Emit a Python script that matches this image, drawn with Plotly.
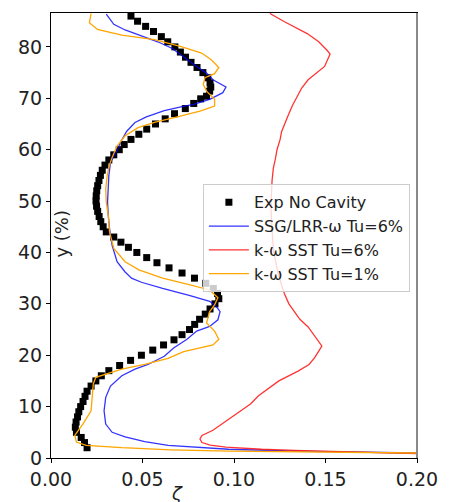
import plotly.graph_objects as go

# ---- data ----
exp_y = [86.0, 85.0, 84.0, 83.0, 82.0, 81.0, 80.0, 79.0, 78.0, 77.0, 76.0, 75.0, 74.0, 73.0, 72.2,
         71.4, 70.4, 69.9, 69.0, 68.0, 67.0, 66.0, 65.0, 64.0, 63.0, 62.0, 61.0, 60.0, 59.0, 58.0,
         57.0, 56.0, 55.0, 54.0, 53.0, 52.0, 51.0, 50.0, 49.0, 48.0, 47.0, 46.0, 45.0, 44.0, 43.0,
         42.0, 41.0, 40.0, 39.0, 38.0, 37.0, 36.0, 35.0, 34.0, 33.0, 32.0, 31.0, 30.0, 29.0, 28.0,
         27.0, 26.0, 25.0, 24.0, 23.0, 22.0, 21.0, 20.0, 19.0, 18.0, 17.0, 16.0, 15.0, 14.0, 13.0,
         12.0, 11.0, 10.0, 9.0, 8.0, 7.0, 6.0, 5.0, 4.0, 3.0, 2.0]
exp_x = [0.0437, 0.0473, 0.0517, 0.0560, 0.0603, 0.0638, 0.0677, 0.0707, 0.0735, 0.0765, 0.0798, 0.0830, 0.0857, 0.0869, 0.0873,
         0.0867, 0.0850, 0.0818, 0.0780, 0.0734, 0.0675, 0.0624, 0.0571, 0.0523, 0.0480, 0.0437, 0.0400, 0.0373, 0.0343, 0.0316,
         0.0295, 0.0280, 0.0270, 0.0262, 0.0255, 0.0250, 0.0247, 0.0246, 0.0249, 0.0255, 0.0263, 0.0272, 0.0285, 0.0302, 0.0343,
         0.0382, 0.0423, 0.0469, 0.0523, 0.0579, 0.0645, 0.0716, 0.0784, 0.0846, 0.0887, 0.0910, 0.0917, 0.0896, 0.0869, 0.0843,
         0.0812, 0.0785, 0.0757, 0.0716, 0.0672, 0.0615, 0.0556, 0.0494, 0.0435, 0.0375, 0.0316, 0.0275, 0.0245, 0.0219, 0.0197,
         0.0186, 0.0175, 0.0162, 0.0152, 0.0145, 0.0137, 0.0133, 0.0139, 0.0165, 0.0183, 0.0197]

ssg_y = [86.4, 84.4, 83.3, 82.1, 81.0, 79.7, 77.5, 76.2, 74.9, 73.6, 72.2, 71.1, 69.8, 68.8, 68.4,
         67.6, 66.4, 65.3, 63.6, 61.4, 59.8, 57.5, 54.9, 52.4, 49.8, 47.2, 44.6, 41.4, 38.2, 36.2,
         35.0, 34.2, 33.0, 31.6, 30.5, 29.5, 28.5, 26.9, 25.6, 24.7, 23.1, 21.4, 19.8, 18.2, 17.3,
         16.0, 14.0, 11.8, 9.2, 6.6, 5.0, 4.1, 3.2, 2.45, 1.7, 1.35, 1.16, 0.97]
ssg_x = [0.0302, 0.0343, 0.0405, 0.0494, 0.0583, 0.0663, 0.0743, 0.0796, 0.0850, 0.0885, 0.0956, 0.0939, 0.0867, 0.0779, 0.0716,
         0.0619, 0.0521, 0.0459, 0.0414, 0.0379, 0.0361, 0.0325, 0.0316, 0.0313, 0.0309, 0.0313, 0.0320, 0.0334, 0.0361, 0.0405,
         0.0440, 0.0494, 0.0610, 0.0760, 0.0867, 0.0903, 0.0924, 0.0912, 0.0867, 0.0796, 0.0743, 0.0670, 0.0619, 0.0530, 0.0459,
         0.0387, 0.0325, 0.0299, 0.0290, 0.0299, 0.0334, 0.0405, 0.0512, 0.0640, 0.0970, 0.1330, 0.1680, 0.2000]

sst6_y = [86.5, 84.9, 82.6, 81.0, 79.4, 78.6, 76.2, 74.6, 73.6, 72.0, 70.5, 68.5, 66.5, 65.0, 63.5,
          62.0, 60.0, 58.0, 56.4, 54.0, 52.4, 50.0, 48.5, 46.0, 44.0, 42.0, 40.0, 38.0, 36.0, 34.0,
          32.0, 30.0, 28.5, 27.0, 25.5, 24.0, 23.0, 21.8, 20.8, 19.5, 18.2, 16.9, 15.0, 13.5, 12.1,
          10.5, 7.9, 6.5, 5.4, 4.4, 3.7, 3.0, 2.5, 2.1, 1.7, 1.5, 1.2, 1.0, 0.85]
sst6_x = [0.1196, 0.1276, 0.1400, 0.1463, 0.1507, 0.1525, 0.1495, 0.1436, 0.1405, 0.1370, 0.1347, 0.1318, 0.1294, 0.1275, 0.1260,
          0.1252, 0.1235, 0.1225, 0.1215, 0.1208, 0.1205, 0.1203, 0.1202, 0.1205, 0.1207, 0.1212, 0.1218, 0.1228, 0.1240, 0.1257,
          0.1275, 0.1300, 0.1330, 0.1360, 0.1405, 0.1436, 0.1458, 0.1480, 0.1463, 0.1440, 0.1410, 0.1350, 0.1245, 0.1190, 0.1134,
          0.1090, 0.0985, 0.0925, 0.0885, 0.0825, 0.0814, 0.0825, 0.0870, 0.0956, 0.1150, 0.1330, 0.1600, 0.1850, 0.2000]

sst1_y = [86.5, 84.7, 83.4, 82.3, 81.4, 80.1, 78.8, 77.5, 76.0, 74.8, 74.0, 72.7, 71.4, 69.8, 68.5,
          67.5, 66.4, 65.3, 64.3, 62.7, 60.7, 58.5, 56.6, 54.9, 52.4, 49.8, 47.2, 44.0, 40.8, 38.2,
          36.6, 35.0, 33.7, 32.7, 31.2, 29.8, 28.5, 27.2, 26.3, 24.7, 23.1, 22.0, 20.7, 19.4, 18.2,
          17.3, 16.4, 15.7, 14.4, 11.8, 9.2, 6.6, 4.4, 3.1, 2.45, 2.0, 1.6, 1.35, 1.16, 0.97]
sst1_x = [0.0219, 0.0210, 0.0254, 0.0387, 0.0565, 0.0707, 0.0823, 0.0876, 0.0917, 0.0894, 0.0841, 0.0832, 0.0850, 0.0894, 0.0894,
          0.0814, 0.0690, 0.0565, 0.0476, 0.0405, 0.0361, 0.0334, 0.0316, 0.0307, 0.0299, 0.0302, 0.0313, 0.0320, 0.0343, 0.0405,
          0.0480, 0.0610, 0.0760, 0.0867, 0.0912, 0.0894, 0.0867, 0.0859, 0.0850, 0.0894, 0.0917, 0.0885, 0.0725, 0.0640, 0.0512,
          0.0387, 0.0299, 0.0245, 0.0231, 0.0227, 0.0219, 0.0174, 0.0130, 0.0139, 0.0192, 0.0387, 0.0654, 0.0974, 0.1510, 0.2000]

x_ticks = [0.00, 0.05, 0.10, 0.15, 0.20]
x_tick_labels = ["0.00", "0.05", "0.10", "0.15", "0.20"]
y_ticks = [0, 10, 20, 30, 40, 50, 60, 70, 80]
y_tick_labels = ["0", "10", "20", "30", "40", "50", "60", "70", "80"]

FONT = "DejaVu Sans"

fig = go.Figure()
fig.add_trace(go.Scatter(x=exp_x, y=exp_y, mode="markers", name="Exp No Cavity",
                         marker=dict(symbol="square", size=7, color="black")))
fig.add_trace(go.Scatter(x=ssg_x, y=ssg_y, mode="lines", name="SSG/LRR-ω Tu=6%",
                         line=dict(color="rgba(0,0,255,0.8)", width=1.3)))
fig.add_trace(go.Scatter(x=sst6_x, y=sst6_y, mode="lines", name="k-ω SST Tu=6%",
                         line=dict(color="rgba(255,0,0,0.8)", width=1.3)))
fig.add_trace(go.Scatter(x=sst1_x, y=sst1_y, mode="lines", name="k-ω SST Tu=1%",
                         line=dict(color="#FFA500", width=1.3)))

fig.update_layout(
    width=450, height=502,
    margin=dict(l=51, r=24, t=13, b=41),
    paper_bgcolor="white", plot_bgcolor="white",
    font=dict(family=FONT, size=18, color="#222"),
    showlegend=True,
    legend=dict(x=0.415, y=0.615, xanchor="left", yanchor="top",
                bgcolor="rgba(255,255,255,0.8)", bordercolor="#cccccc", borderwidth=1,
                font=dict(family=FONT, size=16, color="#222"), tracegroupgap=0,
                itemwidth=40),
    xaxis=dict(range=[0, 0.2], tickvals=x_ticks, ticktext=x_tick_labels,
               tickfont=dict(family=FONT, size=19, color="#222"),
               showgrid=False, zeroline=False, showline=True, linecolor="black", linewidth=1,
               mirror=True, ticks="outside", ticklen=4, tickcolor="black"),
    yaxis=dict(range=[0, 86.6], tickvals=y_ticks, ticktext=y_tick_labels,
               tickfont=dict(family=FONT, size=19, color="#222"),
               showgrid=False, zeroline=False, showline=True, linecolor="black", linewidth=1,
               mirror=True, ticks="outside", ticklen=4, tickcolor="black"),
    annotations=[
        dict(text="y (%)", xref="paper", yref="paper", x=0.028, y=0.505, showarrow=False,
             textangle=-90, font=dict(family=FONT, size=18, color="#222"),
             xanchor="center", yanchor="middle"),
        dict(text="<i>ζ</i>", xref="paper", yref="paper", x=0.345, y=0, yshift=-23, showarrow=False,
             font=dict(family=FONT, size=18, color="#222"), xanchor="center", yanchor="top"),
    ],
    shapes=[
        dict(type="line", xref="paper", yref="paper", x0=1, x1=1, y0=0, y1=1,
             line=dict(color="#888", width=2)),
    ],
)

fig.write_html("out.html")
